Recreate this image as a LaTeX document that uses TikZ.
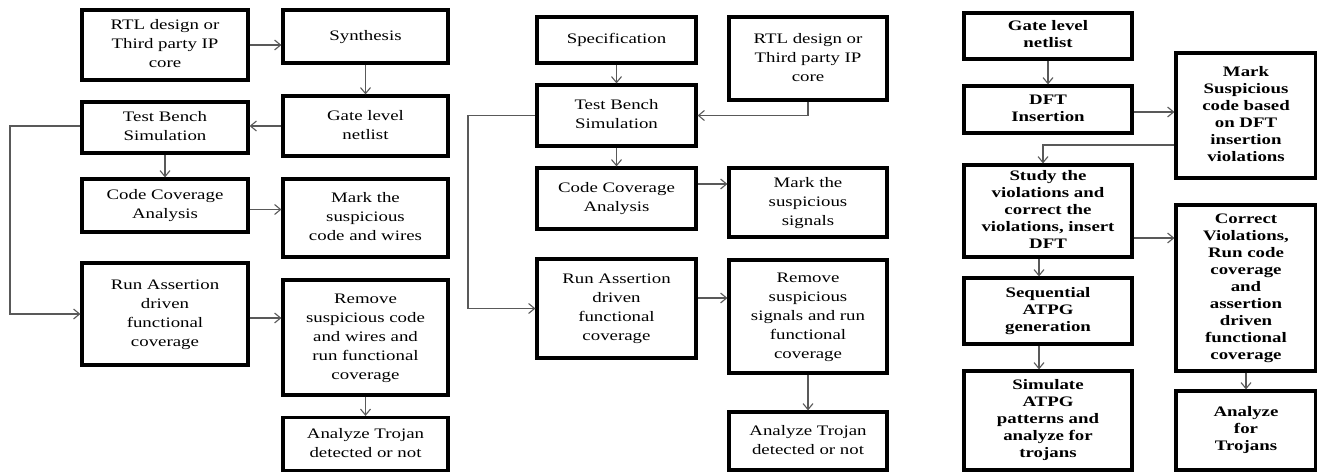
\documentclass[tikz,border=0pt]{standalone}
\usepackage{fontspec}
\setmainfont{Liberation Serif}
\usepackage{graphicx}
\usepackage{tikz}
\usetikzlibrary{arrows.meta,positioning,calc}

\newcommand{\flowfont}{\fontsize{14.5}{19}\selectfont}
\newcommand{\dftfont}{\bfseries\fontsize{14.5}{17}\selectfont}
% text of the source is wide, so every label is stretched sideways
\newcommand{\wtext}[1]{\scalebox{1.3}[1]{\begin{tabular}{@{}c@{}}#1\end{tabular}}}

\tikzset{
  flowbox/.style={draw, line width=3.2pt, inner sep=0pt, font=\flowfont},
  dftbox/.style={flowbox, font=\dftfont},
  flowarrow/.style={draw=black!65, line width=1.1pt, -{Straight Barb[length=6pt,width=10pt]}},
}

\begin{document}
\begin{tikzpicture}[x=1pt, y=-1pt]
  \useasboundingbox (0,0) rectangle (1317,473);

  % first flow
  \node[flowbox, minimum width=166pt, minimum height=70pt] (rtlA) at (165,45) {\wtext{RTL design or\\Third party IP\\core}};
  \node[flowbox, minimum width=165pt, minimum height=53pt] (synA) at (365.5,36.5) {\wtext{Synthesis}};
  \node[flowbox, minimum width=165pt, minimum height=60pt] (gateA) at (365.5,126) {\wtext{Gate level\\netlist}};
  \node[flowbox, minimum width=166pt, minimum height=51pt] (tbA) at (165,127.5) {\wtext{Test Bench\\Simulation}};
  \node[flowbox, minimum width=166pt, minimum height=53pt] (ccaA) at (165,205.5) {\wtext{Code Coverage\\Analysis}};
  \node[flowbox, minimum width=165pt, minimum height=78pt] (markA) at (365.5,218) {\wtext{Mark the\\suspicious\\code and wires}};
  \node[flowbox, minimum width=166pt, minimum height=102pt] (runA) at (165,314) {\wtext{Run Assertion\\driven\\functional\\coverage}};
  \node[flowbox, minimum width=165pt, minimum height=115pt] (remA) at (365.5,337.5) {\wtext{Remove\\suspicious code\\and wires and\\run functional\\coverage}};
  \node[flowbox, minimum width=165pt, minimum height=53pt] (anaA) at (365.5,444) {\wtext{Analyze Trojan\\detected or not}};
  \coordinate (loopA) at (10,0);

  \draw[flowarrow] (rtlA.east) -- (rtlA.east -| synA.west);
  \draw[flowarrow] (synA.south) -- (gateA.north);
  \draw[flowarrow] (gateA.west) -- (gateA.west -| tbA.east);
  \draw[flowarrow] (tbA.south) -- (ccaA.north);
  \draw[flowarrow] ([yshift=-4pt]ccaA.east) -- ([yshift=-4pt]ccaA.east -| markA.west);
  \draw[flowarrow] ([yshift=1.5pt]tbA.west) -- ([yshift=1.5pt]tbA.west -| loopA) |- (runA.west);
  \draw[flowarrow] ([yshift=-4pt]runA.east) -- ([yshift=-4pt]runA.east -| remA.west);
  \draw[flowarrow] (remA.south) -- (anaA.north);

  % second flow
  \node[flowbox, minimum width=159pt, minimum height=46pt] (specB) at (616.5,40) {\wtext{Specification}};
  \node[flowbox, minimum width=158pt, minimum height=83pt] (rtlB) at (808,58.5) {\wtext{RTL design or\\Third party IP\\core}};
  \node[flowbox, minimum width=159pt, minimum height=61pt] (tbB) at (616.5,115.5) {\wtext{Test Bench\\Simulation}};
  \node[flowbox, minimum width=159pt, minimum height=61pt] (ccaB) at (616.5,198.5) {\wtext{Code Coverage\\Analysis}};
  \node[flowbox, minimum width=158pt, minimum height=69pt] (markB) at (808,202.5) {\wtext{Mark the\\suspicious\\signals}};
  \node[flowbox, minimum width=159pt, minimum height=99pt] (runB) at (616.5,308.5) {\wtext{Run Assertion\\driven\\functional\\coverage}};
  \node[flowbox, minimum width=158pt, minimum height=113pt] (remB) at (808,316.5) {\wtext{Remove\\suspicious\\signals and run\\functional\\coverage}};
  \node[flowbox, minimum width=158pt, minimum height=58pt] (anaB) at (808,441) {\wtext{Analyze Trojan\\detected or not}};
  \coordinate (loopB) at (468,0);

  \draw[flowarrow] (specB.south) -- (tbB.north);
  \draw[flowarrow] (rtlB.south) |- (tbB.east);
  \draw[flowarrow] (tbB.south) -- (ccaB.north);
  \draw[flowarrow] ([yshift=14.5pt]ccaB.east) -- ([yshift=14.5pt]ccaB.east -| markB.west);
  \draw[flowarrow] (tbB.west) -- (tbB.west -| loopB) |- (runB.west);
  \draw[flowarrow] ([yshift=10.5pt]runB.east) -- ([yshift=10.5pt]runB.east -| remB.west);
  \draw[flowarrow] (remB.south) -- (anaB.north);

  % third flow
  \node[dftbox, minimum width=168pt, minimum height=46pt] (gateC) at (1048,36) {\wtext{Gate level\\netlist}};
  \node[dftbox, minimum width=168pt, minimum height=47pt] (dftC) at (1048,109.5) {\wtext{DFT\\Insertion}};
  \node[dftbox, minimum width=140pt, minimum height=125pt] (markC) at (1246,115.5) {\wtext{Mark\\Suspicious\\code based\\on DFT\\insertion\\violations}};
  \node[dftbox, minimum width=168pt, minimum height=92pt] (studyC) at (1048,211) {\wtext{Study the\\violations and\\correct the\\violations, insert\\DFT}};
  \node[dftbox, minimum width=140pt, minimum height=166pt] (corrC) at (1246,288) {\wtext{Correct\\Violations,\\Run code\\coverage\\and\\assertion\\driven\\functional\\coverage}};
  \node[dftbox, minimum width=168pt, minimum height=66pt] (seqC) at (1048,311) {\wtext{Sequential\\ATPG\\generation}};
  \node[dftbox, minimum width=168pt, minimum height=99pt] (simC) at (1048,420.5) {\wtext{Simulate\\ATPG\\patterns and\\analyze for\\trojans}};
  \node[dftbox, minimum width=140pt, minimum height=79pt] (anaC) at (1246,430.5) {\wtext{Analyze\\for\\Trojans}};

  \draw[flowarrow] (gateC.south) -- (dftC.north);
  \draw[flowarrow] ([yshift=-2.5pt]dftC.east) -- ([yshift=-2.5pt]dftC.east -| markC.west);
  \draw[flowarrow] ([yshift=-29.5pt]markC.west) -| ([xshift=-5pt]studyC.north);
  \draw[flowarrow] ([yshift=-27pt]studyC.east) -- ([yshift=-27pt]studyC.east -| corrC.west);
  \draw[flowarrow] ([xshift=-9pt]studyC.south) -- ([xshift=-9pt]seqC.north);
  \draw[flowarrow] ([xshift=-9pt]seqC.south) -- ([xshift=-9pt]simC.north);
  \draw[flowarrow] (corrC.south) -- (anaC.north);
\end{tikzpicture}
\end{document}
